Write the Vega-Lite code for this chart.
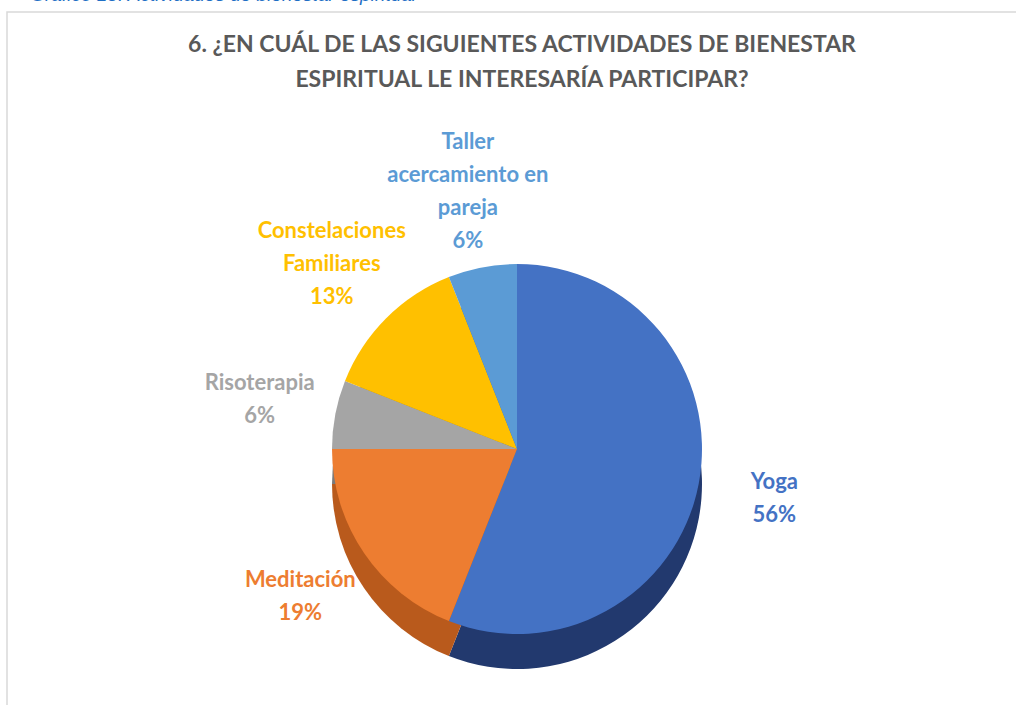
{
  "$schema": "https://vega.github.io/schema/vega-lite/v6.json",
  "padding": {"left": 6, "top": -14, "right": 0, "bottom": 0},
  "background": "white",
  "title": {
    "text": "Gráfico 18. Actividades de bienestar espiritual",
    "anchor": "start",
    "font": "Liberation Sans",
    "fontStyle": "italic",
    "fontWeight": "normal",
    "fontSize": 19,
    "color": "#1F6FC5",
    "dx": 24,
    "offset": 6
  },
  "config": {
    "view": {"stroke": "#D9D9D9", "strokeWidth": 1.5},
    "concat": {"spacing": 0}
  },
  "datasets": {
    "actividades": [
      {"actividad": "Yoga", "porcentaje": 56, "orden": 1, "etiqueta": "Yoga\n56%"},
      {"actividad": "Meditación", "porcentaje": 19, "orden": 2, "etiqueta": "Meditación\n19%"},
      {"actividad": "Risoterapia", "porcentaje": 6, "orden": 3, "etiqueta": "Risoterapia\n6%"},
      {"actividad": "Constelaciones Familiares", "porcentaje": 13, "orden": 4, "etiqueta": "Constelaciones\nFamiliares\n13%"},
      {"actividad": "Taller acercamiento en pareja", "porcentaje": 6, "orden": 5, "etiqueta": "Taller\nacercamiento en\npareja\n6%"}
    ]
  },
  "vconcat": [
    {
      "width": 1010,
      "height": 696,
      "view": {"stroke": "#D9D9D9", "strokeWidth": 1.5, "fill": "white"},
      "title": {
        "text": ["6. ¿EN CUÁL DE LAS SIGUIENTES ACTIVIDADES DE BIENESTAR", "ESPIRITUAL LE INTERESARÍA PARTICIPAR?"],
        "anchor": "middle",
        "offset": -80,
        "font": "Lato",
        "fontWeight": "bold",
        "fontSize": 23,
        "lineHeight": 35,
        "color": "#595959",
        "dx": 10
      },
      "data": {"name": "actividades"},
      "layer": [
        {
          "mark": {"type": "arc", "outerRadius": 185, "xOffset": 5, "yOffset": 124},
          "encoding": {
            "theta": {"field": "porcentaje", "type": "quantitative", "stack": true},
            "order": {"field": "orden", "type": "quantitative"},
            "color": {
              "field": "actividad", "type": "nominal", "legend": null,
              "scale": {
                "domain": ["Yoga", "Meditación", "Risoterapia", "Constelaciones Familiares", "Taller acercamiento en pareja"],
                "range": ["#22396E", "#B95A1C", "#7A7A7A", "#BF9000", "#41719C"]
              }
            }
          }
        },
        {
          "mark": {"type": "arc", "outerRadius": 185, "xOffset": 5, "yOffset": 89},
          "encoding": {
            "theta": {"field": "porcentaje", "type": "quantitative", "stack": true},
            "order": {"field": "orden", "type": "quantitative"},
            "color": {
              "field": "actividad", "type": "nominal", "legend": null,
              "scale": {
                "domain": ["Yoga", "Meditación", "Risoterapia", "Constelaciones Familiares", "Taller acercamiento en pareja"],
                "range": ["#4472C4", "#ED7D31", "#A5A5A5", "#FFC000", "#5B9BD5"]
              }
            }
          }
        },
        {
          "mark": {
            "type": "text", "radius": 262, "xOffset": 5, "yOffset": 89,
            "font": "Lato", "fontWeight": "bold", "fontSize": 22,
            "lineBreak": "\n", "lineHeight": 33, "align": "center", "baseline": "middle",
            "dy": {"expr": "-(length(split(datum.etiqueta, '\\n')) - 1) * 16.5"}
          },
          "encoding": {
            "theta": {"field": "porcentaje", "type": "quantitative", "stack": true},
            "order": {"field": "orden", "type": "quantitative"},
            "text": {"field": "etiqueta", "type": "nominal"},
            "color": {
              "field": "actividad", "type": "nominal", "legend": null,
              "scale": {
                "domain": ["Yoga", "Meditación", "Risoterapia", "Constelaciones Familiares", "Taller acercamiento en pareja"],
                "range": ["#4472C4", "#ED7D31", "#A5A5A5", "#FFC000", "#5B9BD5"]
              }
            }
          }
        }
      ],
      "resolve": {"scale": {"color": "independent"}}
    }
  ]
}
